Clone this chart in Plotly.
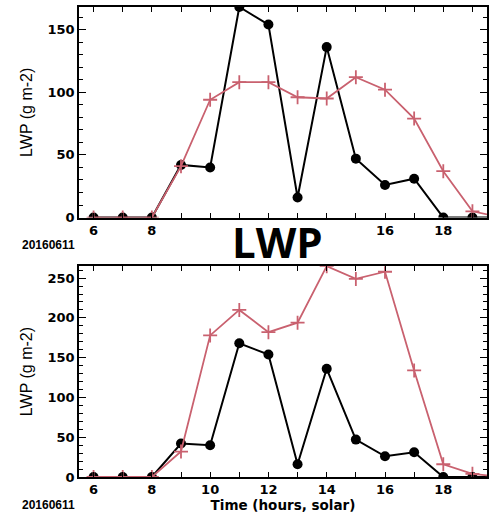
import plotly.graph_objects as go

hours = [6, 7, 8, 9, 10, 11, 12, 13, 14, 15, 16, 17, 18, 19, 20]
obs_lwp = [0, 0, 0, 42, 40, 168, 154, 16, 136, 47, 26, 31, 0, 0, 0]
model_top = [0, 0, 0, 41, 94, 108, 108, 96, 95, 112, 102, 79, 37, 5, 0]
model_bottom = [0, 0, 0, 32, 178, 210, 182, 194, 265, 249, 258, 134, 16, 4, 0]

tick_hours = [6, 7, 8, 9, 10, 11, 12, 13, 14, 15, 16, 17, 18, 19]
tick_text_top = ["6", "", "8", "", "", "", "", "", "", "", "16", "", "18", ""]
tick_text_bottom = ["6", "", "8", "", "10", "", "12", "", "14", "", "16", "", "18", ""]

date_label = "20160611"
title_text = "LWP"
ytitle = "LWP (g m-2)"
xtitle = "Time (hours, solar)"

RED = "#c9616f"
fig = go.Figure()

for yref, model in (("y", model_top), ("y2", model_bottom)):
    xa = "x" if yref == "y" else "x2"
    fig.add_trace(go.Scatter(x=hours, y=obs_lwp, xaxis=xa, yaxis=yref, mode="lines+markers",
                             line=dict(color="black", width=2),
                             marker=dict(symbol="circle", size=10, color="black"),
                             showlegend=False))
    fig.add_trace(go.Scatter(x=hours, y=model, xaxis=xa, yaxis=yref, mode="lines+markers",
                             line=dict(color=RED, width=1.8),
                             marker=dict(symbol="cross-thin", size=10, line=dict(color=RED, width=1.8)),
                             showlegend=False))

tickfont = dict(family="DejaVu Sans", size=13, color="black", weight="bold")
common_x = dict(range=[5.5, 19.5], tickvals=tick_hours, ticks="inside", ticklen=5,
                showline=True, linecolor="black", linewidth=1.5, mirror="ticks",
                tickcolor="black", tickwidth=1.3, showgrid=False, zeroline=False,
                tickfont=tickfont)
common_y = dict(dtick=50, tick0=0, ticks="inside", ticklen=7,
                showline=True, linecolor="black", linewidth=1.5, mirror="ticks",
                tickcolor="black", tickwidth=1.3, showgrid=False, zeroline=False,
                tickfont=tickfont,
                minor=dict(dtick=10, ticks="inside", ticklen=4, tickcolor="black", tickwidth=1),
                title=dict(text=ytitle, font=dict(family="Liberation Sans", size=16, color="black"),
                           standoff=11))

fig.update_layout(
    width=494, height=516,
    margin=dict(l=79, r=5, t=6, b=39),
    paper_bgcolor="white", plot_bgcolor="white",
    xaxis=dict(common_x, domain=[0, 1], anchor="y", ticktext=tick_text_top),
    yaxis=dict(common_y, domain=[0.552, 1], anchor="x", range=[0, 168]),
    xaxis2=dict(common_x, domain=[0, 1], anchor="y2", ticktext=tick_text_bottom,
                title=dict(text=xtitle, standoff=1,
                           font=dict(family="DejaVu Sans", size=13.5, color="black", weight="bold"))),
    yaxis2=dict(common_y, domain=[0, 0.4486], anchor="x2", range=[0, 265]),
    annotations=[
        dict(text=title_text, xref="paper", yref="paper", x=0.486, y=0.502, showarrow=False,
             xanchor="center", yanchor="middle",
             font=dict(family="Open Sans", size=42, color="black", weight="bold")),
        dict(text=date_label, xref="paper", yref="paper", x=-0.145, y=0.494, showarrow=False,
             xanchor="left", yanchor="middle",
             font=dict(family="Liberation Sans", size=12, color="black", weight="bold")),
        dict(text=date_label, xref="paper", yref="paper", x=-0.145, y=-0.060, showarrow=False,
             xanchor="left", yanchor="middle",
             font=dict(family="Liberation Sans", size=12, color="black", weight="bold")),
    ],
)

fig.write_html("out.html")
